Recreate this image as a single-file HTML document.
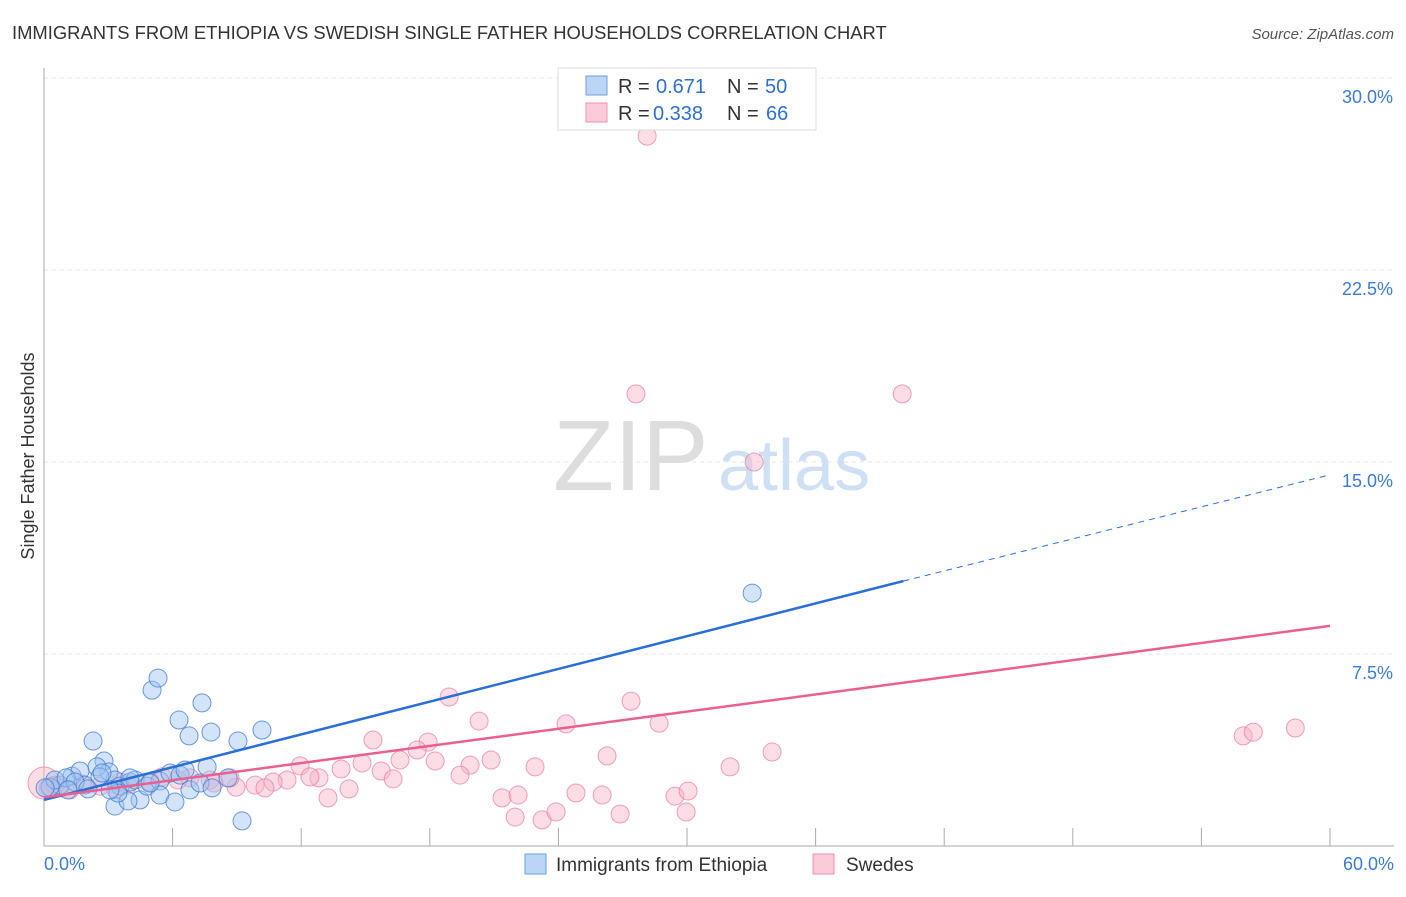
<!DOCTYPE html>
<html><head><meta charset="utf-8"><style>
body{margin:0;background:#fff;font-family:"Liberation Sans",sans-serif}
svg text{font-family:"Liberation Sans",sans-serif}
</style></head><body>
<svg width="1406" height="892" xmlns="http://www.w3.org/2000/svg">
<text x="12" y="39" font-size="18.4" fill="#333">IMMIGRANTS FROM ETHIOPIA VS SWEDISH SINGLE FATHER HOUSEHOLDS CORRELATION CHART</text>
<text x="1394" y="39" font-size="15" fill="#555" font-style="italic" text-anchor="end">Source: ZipAtlas.com</text>
<g id="grid"></g>
<g id="axes"></g>
<text x="553" y="490" font-size="100" fill="#ddd" font-family="Liberation Serif">ZIP</text>
<text x="718" y="490" font-size="72" fill="#cfe0f5">atlas</text>
<g id="pts"></g>
<g id="lines"></g>
<text transform="translate(34,456) rotate(-90)" font-size="18" fill="#333" text-anchor="middle">Single Father Households</text>
<g>
<rect x="558" y="68" width="258" height="62" fill="#fff" stroke="#ddd"/>
<rect x="586" y="76" width="21" height="19" fill="#bcd5f5" stroke="#6a9fe0"/>
<rect x="586" y="103" width="21" height="19" fill="#fbcbd9" stroke="#ec8fb0"/>
<text x="618" y="93" font-size="20" fill="#333">R =</text>
<text x="656" y="93" font-size="20" fill="#2f6fd0">0.671</text>
<text x="727" y="93" font-size="20" fill="#333">N =</text>
<text x="765" y="93" font-size="20" fill="#2f6fd0">50</text>
<text x="618" y="120" font-size="20" fill="#333">R =</text>
<text x="653" y="120" font-size="20" fill="#2f6fd0">0.338</text>
<text x="727" y="120" font-size="20" fill="#333">N =</text>
<text x="766" y="120" font-size="20" fill="#2f6fd0">66</text>
</g>
<g>
<rect x="525" y="854" width="21" height="20" fill="#bcd5f5" stroke="#6a9fe0"/>
<text x="556" y="871" font-size="19" fill="#333">Immigrants from Ethiopia</text>
<rect x="813" y="854" width="21" height="20" fill="#fbcbd9" stroke="#ec8fb0"/>
<text x="846" y="871" font-size="19" fill="#333">Swedes</text>
</g>
</svg>
<script>
const xTicks=[0,6,12,18,24,30,36,42,48,54,60];
const yTicks=[7.5,15,22.5,30];
const yTickLabels=["7.5%","15.0%","22.5%","30.0%"];
const xEndLabels=["0.0%","60.0%"];
const blueX=[5.04,5.32,6.30,6.77,7.37,7.79,9.05,10.17,2.29,2.80,3.03,2.47,1.31,1.68,0.75,0.28,0.51,1.03,1.91,3.31,3.55,4.01,4.25,4.48,4.81,5.41,5.88,6.35,6.58,6.81,7.28,7.61,7.84,8.59,3.31,3.92,3.45,5.41,6.11,9.24,33.04,2.61,1.45,0.05,2.05,4.95,4.01,3.08,2.71,1.12];
const blueY=[6.09,6.56,4.92,4.30,5.59,4.45,4.10,4.53,4.10,3.32,2.89,3.09,2.73,2.93,2.38,2.30,2.58,2.66,2.38,2.58,2.34,2.50,2.58,1.80,2.34,2.54,2.85,2.77,2.97,2.19,2.46,3.09,2.27,2.66,1.56,1.76,2.07,1.99,1.72,0.98,9.88,2.70,2.50,2.27,2.23,2.46,2.66,2.19,2.85,2.19];
const pinkX=[28.14,27.62,40.04,33.13,18.90,27.39,20.30,24.36,28.70,55.95,56.42,58.38,15.35,17.92,17.41,33.97,26.27,20.86,18.25,11.95,14.84,16.61,19.88,22.91,32.01,13.86,15.73,19.41,12.83,11.34,12.41,16.29,10.69,9.85,8.96,10.31,14.23,8.68,7.75,6.81,6.25,5.51,4.95,3.92,3.36,2.61,1.77,0.75,0.19,0.00,13.25,21.37,22.12,24.82,26.04,29.44,30.05,23.24,21.98,23.89,26.88,29.96,7.93,3.55,1.21,0.51];
const pinkY=[27.73,17.66,17.66,15.00,5.82,5.66,4.88,4.77,4.80,4.30,4.45,4.61,4.14,4.06,3.75,3.67,3.52,3.36,3.32,3.13,3.24,3.36,3.16,3.09,3.09,3.01,2.93,2.77,2.66,2.58,2.70,2.62,2.50,2.38,2.30,2.27,2.23,2.66,2.58,2.66,2.58,2.70,2.50,2.38,2.19,2.34,2.42,2.27,2.27,2.46,1.88,1.88,1.99,2.07,1.99,1.95,2.15,1.02,1.13,1.33,1.25,1.33,2.46,2.50,2.19,2.38];
const blueLine=[0,1.8,40.1,10.35,60,14.5];
const pinkLine=[0,1.9,60,8.6];
const NS="http://www.w3.org/2000/svg";
const X=v=>44+v*(1286/60), Y=v=>846-v*25.6;
function mk(tag,parent,attrs){const e=document.createElementNS(NS,tag);for(const k in attrs)e.setAttribute(k,attrs[k]);parent.appendChild(e);return e;}
const grid=document.getElementById('grid'),axes=document.getElementById('axes'),pts=document.getElementById('pts'),lines=document.getElementById('lines');
yTicks.forEach((t,i)=>{
 const l=mk('line',grid,{x1:44,x2:1394,y1:Y(t),y2:Y(t),stroke:'#e6e6e6','stroke-dasharray':'4,4'});
 
 
 const tx=mk('text',axes,{x:1393,y:Y(t)+25,'font-size':18,fill:'#3b7ad6','text-anchor':'end'});
 tx.textContent=yTickLabels[i];
 
 
});
const ax=mk('line',axes,{x1:44,x2:1394,y1:846,y2:846,stroke:'#aaa'});


const ay=mk('line',axes,{x1:44,x2:44,y1:68,y2:846,stroke:'#aaa'});


xTicks.forEach(t=>{
 const l=mk('line',axes,{x1:X(t),x2:X(t),y1:828,y2:846,stroke:'#aaa'});
 
 
});
[[0,'start',44],[60,'end',1394]].forEach((d,i)=>{
 const tx=mk('text',axes,{x:d[2],y:870,'font-size':18,fill:'#3b7ad6','text-anchor':d[1]});
 tx.textContent=xEndLabels[i];
 
 
});
pinkX.forEach((x,i)=>{
 const c=mk('circle',pts,{cx:X(x),cy:Y(pinkY[i]),r:(x===0?16:9),fill:'rgba(248,180,200,0.45)',stroke:'rgba(232,120,160,0.7)','stroke-width':1});
 
 
});
blueX.forEach((x,i)=>{
 const c=mk('circle',pts,{cx:X(x),cy:Y(blueY[i]),r:9,fill:'rgba(160,195,240,0.45)',stroke:'rgba(60,120,210,0.75)','stroke-width':1});
 
 
});
const b1=mk('line',lines,{x1:X(blueLine[0]),y1:Y(blueLine[1]),x2:X(blueLine[2]),y2:Y(blueLine[3]),stroke:'#2a6fd6','stroke-width':2.5});


const b2=mk('line',lines,{x1:X(blueLine[2]),y1:Y(blueLine[3]),x2:X(blueLine[4]),y2:Y(blueLine[5]),stroke:'#2a6fd6','stroke-width':1,'stroke-dasharray':'6,5'});


const p1=mk('line',lines,{x1:X(pinkLine[0]),y1:Y(pinkLine[1]),x2:X(pinkLine[2]),y2:Y(pinkLine[3]),stroke:'#e8608f','stroke-width':2.5});


</script>
</body></html>
